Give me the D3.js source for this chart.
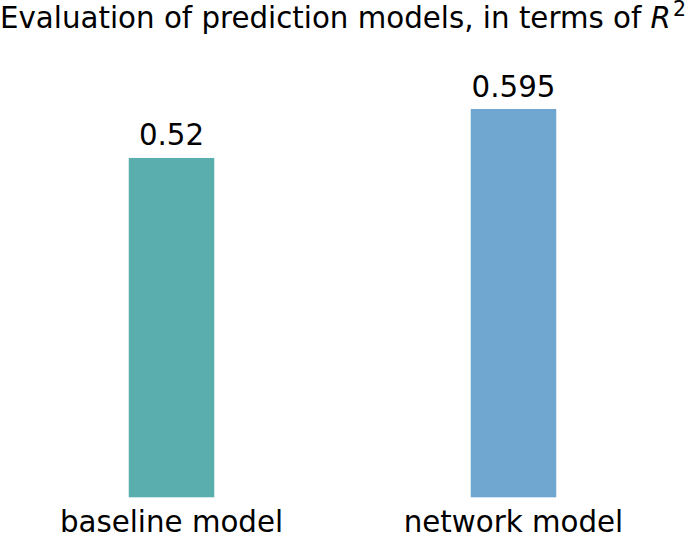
<!DOCTYPE html>
<html>
<head>
<meta charset="utf-8">
<script src="https://cdn.jsdelivr.net/npm/d3@7"></script>
<style>
  body { margin: 0; background: #fff; }
  svg { display: block; font-family: "DejaVu Sans", sans-serif; }
</style>
</head>
<body>
<div id="chart"></div>
<script>
// chart data
const categories = ["baseline model", "network model"];
const r2Values = [0.52, 0.595];
const valueLabels = ["0.52", "0.595"];
const barColors = ["#5aaead", "#6fa7d1"];

const width = 685, height = 535;
const baseY = 497.3;
const fs = 29.3;

const svg = d3.select("#chart").append("svg")
    .attr("width", width)
    .attr("height", height);

const x = d3.scaleBand()
    .domain(categories)
    .range([0.5, 684.5])
    .paddingInner(0.75)
    .paddingOuter(0.375);

const y = d3.scaleLinear()
    .domain([0, 0.595])
    .range([baseY, 109]);

// bars
svg.selectAll("rect.bar")
    .data(categories)
    .join("rect")
    .attr("class", "bar")
    .attr("x", d => x(d))
    .attr("y", (d, i) => y(r2Values[i]))
    .attr("width", x.bandwidth())
    .attr("height", (d, i) => baseY - y(r2Values[i]))
    .attr("fill", (d, i) => barColors[i]);

// value labels above bars
svg.selectAll("text.val")
    .data(categories)
    .join("text")
    .attr("class", "val")
    .attr("x", d => x(d) + x.bandwidth() / 2)
    .attr("y", (d, i) => y(r2Values[i]) - 12.5)
    .attr("text-anchor", "middle")
    .attr("font-size", fs)
    .attr("fill", "#000")
    .text((d, i) => valueLabels[i]);

// category axis, no line or ticks
const xAxis = svg.append("g")
    .attr("transform", `translate(0,${baseY})`)
    .call(d3.axisBottom(x).tickSize(0).tickPadding(14));
xAxis.select(".domain").remove();
xAxis.selectAll("text")
    .attr("font-size", fs)
    .attr("font-family", "DejaVu Sans, sans-serif")
    .attr("fill", "#000");

// title with italic R and superscript 2
const title = svg.append("text")
    .attr("x", 343)
    .attr("y", 28)
    .attr("text-anchor", "middle")
    .attr("font-size", fs)
    .attr("fill", "#000");
title.append("tspan").text("Evaluation of prediction models, in terms of ");
title.append("tspan").attr("font-style", "italic").text("R");
title.append("tspan").attr("font-size", 20.5).attr("dy", -12).attr("dx", 2).text("2");
</script>
</body>
</html>
